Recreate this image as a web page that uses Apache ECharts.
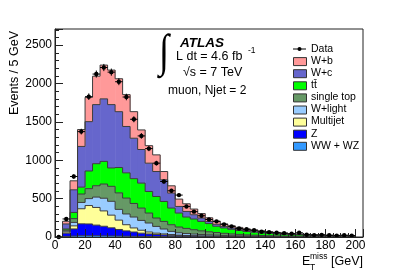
<!DOCTYPE html>
<html>
<head>
<meta charset="utf-8">
<script src="https://cdn.jsdelivr.net/npm/echarts@6.0.0/dist/echarts.min.js"></script>
<style>html,body{margin:0;padding:0;background:#fff}#c{width:407px;height:276px}</style>
</head>
<body>
<div id="c"></div>
<script>
// ---- data (bins of 5 GeV) ----
const mcBinLow = [5,10,15,20,25,30,35,40,45,50,55,60,65,70,75,80,85,90,95,100,105,110,115,120,125,130,135,140,145,150,155,160,165,170,175,180,185,190,195];
const binWidth = 5;
const wwwz      = [8,12,15,15,15,14,13,12,10,9, 8,7,6,5,5,4,4,3,3,3, 2,2,2,2,1,1,1,1,1,1, 1,0,0,0,0,0,0,0,0];
const zjets     = [42,93,157,155,140,126,107,86,70,56, 42,33,26,22,17,14,11,10,8,7, 6,5,4,3,3,3,2,2,1,1, 1,1,1,1,1,1,1,0,0];
const multijet  = [16,40,196,240,230,200,165,122,80,53, 38,25,18,13,10,7,5,4,3,2, 2,2,2,2,2,1,1,1,1,1, 0,1,1,0,0,0,0,1,1];
const wlight    = [14,45,82,90,135,165,180,140,140,142, 128,117,88,64,41,30,25,21,18,16, 14,11,9,8,7,6,5,4,4,3, 3,2,2,2,2,1,1,1,1];
const singletop = [12,50,110,130,148,185,195,215,207,177, 161,130,109,99,87,75,67,57,48,40, 34,28,23,19,15,13,11,9,8,7, 6,5,4,4,3,3,3,2,2];
const ttbar     = [13,80,90,230,287,295,240,330,329,323, 325,281,281,260,217,182,148,139,123,107, 82,70,60,51,44,38,33,29,25,21, 19,17,15,13,12,11,9,8,7];
const wc        = [65,295,530,643,770,815,825,728,604,527, 438,369,325,282,195,86,73,56,44,28, 25,20,18,15,14,13,12,11,9,8, 7,6,5,4,4,3,3,3,2];
const wb        = [35,117,220,317,370,440,450,429,415,346, 255,228,217,108,95,96,100,74,58,47, 40,32,27,25,19,17,15,13,11,10, 8,8,7,6,5,5,4,4,4];

const dataBinLow = [0,5,10,15,20,25,30,35,40,45,50,55,60,65,70,75,80,85,90,95,100,105,110,115,120,125,130,135,140,145,150,155,160,165,170,175,180,185,190,195];
const dataCounts = [0,235,788,1373,1828,2123,2208,2148,2023,1824, 1534,1317,1152,962,723,602,546,398,330,277, 228,204,165,139,110,100,88,68,62,55, 50,42,55,30,25,28,22,18,24,18];

const stackNames  = ['WW + WZ','Z','Multijet','W+light','single top','tt\u0304','W+c','W+b'];
const stackValues = [wwwz, zjets, multijet, wlight, singletop, ttbar, wc, wb];
const stackColors = ['#3399FF','#0000FF','#FFFF99','#99CCFF','#669966','#00FF00','#6666CC','#FF9999'];

const legendNames  = ['Data','W+b','W+c','tt\u0304','single top','W+light','Multijet','Z','WW + WZ'];
const yTickLabels = [0,500,1000,1500,2000,2500];
const xTickLabels = [0,20,40,60,80,100,120,140,160,180,200];

const FONT = '"Liberation Sans", Arial, Helvetica, sans-serif';

// cumulative stacking (bottom -> top)
const cumLow = [], cumHigh = [];
let running = mcBinLow.map(() => 0);
stackValues.forEach((vals) => {
  cumLow.push(running.slice());
  running = running.map((r, i) => r + vals[i]);
  cumHigh.push(running.slice());
});

function itemsFor(k){
  return mcBinLow.map((x, i) => [x, x + binWidth, cumLow[k][i], cumHigh[k][i],
    i > 0 ? cumHigh[k][i-1] : cumLow[k][i], i === mcBinLow.length-1 ? 1 : 0]);
}

const series = [];
stackValues.forEach((vals, k) => {
  series.push({
    name: stackNames[k], type:'custom', z:2, silent:true, clip:true,
    data: itemsFor(k),
    renderItem(params, api){
      const p0 = api.coord([api.value(0), api.value(2)]);
      const p1 = api.coord([api.value(1), api.value(3)]);
      const x0 = p0[0], x1 = p1[0];
      return {type:'rect', shape:{x:x0, y:p1[1], width:x1-x0 + 0.4, height:p0[1]-p1[1]},
        style:{fill: stackColors[k]}};
    }
  });
});
stackValues.forEach((vals, k) => {
  series.push({
    name: stackNames[k]+'_outline', type:'custom', z:3, silent:true, clip:true,
    data: itemsFor(k),
    renderItem(params, api){
      const x0 = api.coord([api.value(0), 0])[0];
      const x1 = api.coord([api.value(1), 0])[0];
      const yt = api.coord([0, api.value(3)])[1];
      const yp = api.coord([0, api.value(4)])[1];
      const pts = [[x0, yp], [x0, yt], [x1, yt]];
      if (api.value(5) === 1) pts.push([x1, api.coord([0, api.value(2)])[1]]);
      return {type:'polyline', shape:{points:pts}, style:{stroke:'#3c3c3c', lineWidth:1, fill:null}};
    }
  });
});
series.push({
  name:'Data', type:'custom', z:5, silent:true,
  data: dataCounts.map((n,i)=>[dataBinLow[i]+binWidth/2, n]),
  renderItem(params, api){
    const x = api.value(0), n = api.value(1);
    const c = api.coord([x, n]);
    const l = api.coord([x - binWidth/2, n]);
    const r = api.coord([x + binWidth/2, n]);
    const e = Math.sqrt(n);
    const t = api.coord([x, n + e]);
    const b = api.coord([x, Math.max(0, n - e)]);
    const st = {stroke:'#000', lineWidth:1};
    return {type:'group', children:[
      {type:'line', shape:{x1:l[0], y1:c[1], x2:r[0], y2:c[1]}, style:st},
      {type:'line', shape:{x1:c[0], y1:t[1], x2:c[0], y2:b[1]}, style:st},
      {type:'circle', shape:{cx:c[0], cy:c[1], r:2.2}, style:{fill:'#000'}}
    ]};
  }
});

// legend (graphic)
const legendColors = {'W+b':'#FF9999','W+c':'#6666CC','tt\u0304':'#00FF00','single top':'#669966','W+light':'#99CCFF','Multijet':'#FFFF99','Z':'#0000FF','WW + WZ':'#3399FF'};
const graphics = [];
const lx = 293, ly0 = 49, lstep = 12.1;
legendNames.forEach((nm, i) => {
  const y = ly0 + i*lstep;
  if (nm === 'Data') {
    graphics.push({type:'line', z:100, shape:{x1:lx, y1:y, x2:lx+13, y2:y}, style:{stroke:'#000', lineWidth:1}});
    graphics.push({type:'circle', z:100, shape:{cx:lx+6.5, cy:y, r:2}, style:{fill:'#000'}});
  } else {
    graphics.push({type:'rect', z:100, shape:{x:lx+0.5, y:y-3.5, width:13, height:8}, style:{fill:legendColors[nm], stroke:'#333', lineWidth:1}});
  }
  graphics.push({type:'text', z:100, x:lx+18, y:y, style:{text:nm, font:'10.5px '+FONT, fill:'#000', verticalAlign:'middle'}});
});
// annotations
graphics.push({type:'text', z:100, x:180, y:43, style:{text:'ATLAS', font:'italic bold 13.5px '+FONT, fill:'#000', verticalAlign:'middle'}});
graphics.push({type:'text', z:100, x:159, y:54, scaleX:0.8, style:{text:'\u222B', font:'46px "Liberation Serif", "DejaVu Serif", serif', fill:'#000', verticalAlign:'middle'}});
graphics.push({type:'text', z:100, x:176, y:57, style:{text:'L dt = 4.6 fb', font:'12.5px '+FONT, fill:'#000', verticalAlign:'middle'}});
graphics.push({type:'text', z:100, x:248, y:51, style:{text:'-1', font:'8.5px '+FONT, fill:'#000', verticalAlign:'middle'}});
graphics.push({type:'text', z:100, x:183, y:73, style:{text:'\u221As = 7 TeV', font:'12.5px '+FONT, fill:'#000', verticalAlign:'middle'}});
graphics.push({type:'text', z:100, x:168, y:91, style:{text:'muon, Njet = 2', font:'12px '+FONT, fill:'#000', verticalAlign:'middle'}});
// axis titles
graphics.push({type:'text', z:100, x:15, y:31, rotation:Math.PI/2, style:{text:'Events / 5 GeV', font:'12.5px '+FONT, fill:'#000', align:'right', verticalAlign:'middle'}});
graphics.push({type:'text', z:100, x:302, y:262, style:{text:'E', font:'12.5px '+FONT, fill:'#000', verticalAlign:'middle'}});
graphics.push({type:'text', z:100, x:310, y:257, style:{text:'miss', font:'8.5px '+FONT, fill:'#000', verticalAlign:'middle'}});
graphics.push({type:'text', z:100, x:310, y:268, style:{text:'T', font:'8.5px '+FONT, fill:'#000', verticalAlign:'middle'}});
graphics.push({type:'text', z:100, x:331, y:262, style:{text:'[GeV]', font:'12.5px '+FONT, fill:'#000', verticalAlign:'middle'}});

const axisCommon = {
  axisLine:{show:true, lineStyle:{color:'#222', width:1}},
  axisTick:{show:true, inside:true, length:8, lineStyle:{color:'#222'}},
  splitLine:{show:false}
};

const chart = echarts.init(document.getElementById('c'), null, {renderer:'canvas'});
chart.setOption({
  animation:false,
  backgroundColor:'#fff',
  grid:{left:55, right:44, top:29, bottom:39, show:true, borderColor:'#222', borderWidth:1},
  xAxis:Object.assign({type:'value', min:0, max:205, interval:20, z:10,
    axisLabel:{fontSize:12, fontFamily:FONT, color:'#000', margin:3, showMaxLabel:false,
      formatter:v => xTickLabels.includes(v) ? String(v) : ''}}, axisCommon,
    {minorTick:{show:true, splitNumber:4, length:4, lineStyle:{color:'#222'}}}),
  yAxis:Object.assign({type:'value', min:0, max:2710, interval:500, z:10,
    axisLabel:{fontSize:12, fontFamily:FONT, color:'#000', margin:3, showMaxLabel:false,
      formatter:v => yTickLabels.includes(v) ? String(v) : ''}}, axisCommon,
    {minorTick:{show:true, splitNumber:5, length:4, lineStyle:{color:'#222'}}}),
  series: series,
  graphic: graphics
});
</script>
</body>
</html>
